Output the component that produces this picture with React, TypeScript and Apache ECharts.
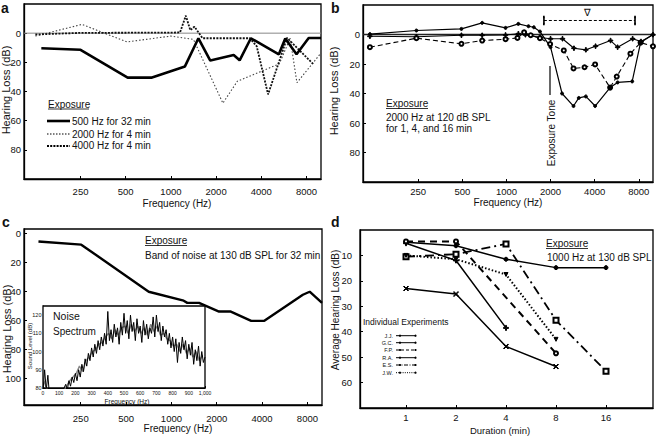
import React, { useEffect, useRef } from "react";
import * as echarts from "echarts";

const FONT = '"Liberation Sans", Arial, Helvetica, sans-serif';
const INK = "#111";

// ---------- shared frequency axis ----------
const FREQ_TICKS = [250, 500, 1000, 2000, 4000, 8000];
const FREQ_MIN = 105;
const FREQ_MAX = 10000;

// ---------- panel a ----------
const A_500_FREQ = [137, 250, 515, 740, 1240, 1525, 1830, 2620, 2870, 3410, 5240, 5780, 6870, 8280, 10000];
const A_500_DB = [10.3, 11.4, 30.5, 30.5, 22.8, 3.5, 18.8, 15, 18.6, 3.5, 14.5, 3.7, 14.5, 3.3, 3.3];
const A_2000_FREQ = [125, 255, 511, 1000, 1414, 2219, 2770, 5280, 6230, 6910, 10000];
const A_2000_DB = [2, -6, 6, 2, 4.3, 48, 33, 21, 3.4, 34, 13.6];
const A_4000_FREQ = [125, 250, 500, 1000, 1150, 1257, 1347, 1434, 1625, 3360, 3730, 4440, 5940, 8940];
const A_4000_DB = [0.9, -0.2, -0.3, -0.4, -0.5, -12, -2, -4.5, 3.5, 3.5, 9, 42, 3.2, 21.5];

// ---------- panel b ----------
const B_1MIN_FREQ = [117, 243, 493, 683, 986, 1206, 1347, 1693, 2000, 2412, 2888, 3482, 4056, 5134, 5736, 7262, 8282, 10000];
const B_1MIN_DB = [1.2, 1.5, 0.5, 0.5, 0.3, -0.5, 0.2, 2, 2.9, 2.9, 9.3, 10.4, 7.9, 4.1, 8.6, 2.9, 4.7, 0.2];
const B_4MIN_FREQ = [117, 243, 493, 683, 986, 1189, 1320, 1464, 1693, 1986, 2462, 2868, 3410, 4028, 5098, 5657, 7013, 8225, 10000];
const B_4MIN_DB = [8.6, 2.5, 6.3, 4.1, 3.2, 2.3, -1.5, 0.5, 2.5, 6.5, 10.8, 23, 22.2, 20.3, 36, 28.5, 13, 5.5, 8];
const B_16MIN_FREQ = [117, 243, 493, 683, 986, 1206, 1414, 1537, 1693, 2000, 2395, 2868, 3116, 3482, 4028, 5098, 5736, 7212, 8225, 10000];
const B_16MIN_DB = [-0.3, -2.7, -3.8, -7.9, -4.5, -7.2, -5.6, -4.9, -2, 8.6, 40, 48.5, 43, 42, 48.5, 36, 32.5, 31.8, 5.5, 0];
const B_RANGE_FREQ = [1800, 7540];
const B_RANGE_DB = [-9.5, -9.5];

// ---------- panel c ----------
const C_FREQ = [131, 252, 707, 1206, 1275, 1526, 2071, 2480, 3387, 4141, 7464, 8280, 10000];
const C_DB = [5.6, 7.8, 40.3, 46.5, 48, 48, 54, 54, 60.4, 60.4, 42.4, 40.3, 48];

// ---------- inset: noise spectrum ----------
const NOISE_STEP_HZ = 10; // black trace: 0, 10, 20, ... 1000 Hz
const NOISE_BLACK = [
  78, 90, 79, 87, 76, 74, 75, 73, 74, 75,
  76, 74, 78, 80, 82, 79, 84, 81, 86, 83,
  88, 84, 90, 86, 93, 89, 96, 92, 99, 95,
  102, 97, 104, 99, 106, 101, 108, 103, 110, 104,
  122, 106, 112, 105, 115, 108, 113, 104, 116, 109,
  121, 110, 117, 107, 120, 111, 116, 106, 118, 110,
  114, 105, 117, 109, 115, 107, 113, 110, 119, 108,
  120, 111, 116, 106, 114, 108, 112, 104, 110, 102,
  108, 100, 107, 94, 105, 99, 108, 101, 106, 96,
  104, 98, 105, 93, 101, 95, 103, 92, 100, 94,
  97,
];
const NOISE_GRAY_START = 5;
const NOISE_GRAY_STEP = 20; // gray trace: 5, 25, 45, ... Hz
const NOISE_GRAY = [
  84, 79, 75, 74, 73, 76, 78, 81, 84, 86,
  88, 92, 89, 95, 97, 100, 101, 104, 105, 108,
  110, 107, 112, 109, 113, 114, 110, 115, 111, 114,
  110, 113, 109, 115, 111, 114, 109, 110, 107, 106,
  103, 104, 100, 104, 99, 102, 97, 100, 95, 98,
];
const INSET_X_TICKS = [0, 100, 200, 300, 400, 500, 600, 700, 800, 900, 1000];
const INSET_Y_TICKS = [80, 90, 100, 110, 120];

// ---------- panel d ----------
const D_DURATIONS = [1, 2, 4, 8, 16];
const D_JJ = [4.8, 6.2, 11.5, 14.8, 14.8];
const D_GC = [5.2, 12, 38.5, null, null];
const D_FP = [4.5, 4.5, null, 48.5, null];
const D_RA = [23, 25.2, 45.8, 53.7, null];
const D_ES = [10.5, 9.5, 5.5, 35.5, 55.5];
const D_JW = [10, 11.5, 17.5, 43, null];
const D_NAMES = ["J.J.", "G.C.", "F.P.", "R.A.", "E.S.", "J.W."];

// ---------- helpers ----------
const L = (f: number) => Math.log2(f / 250);
const fpts = (f: number[], v: number[]) => f.map((x, i) => [L(x), v[i]]);
const dpts = (v: (number | null)[]) =>
  D_DURATIONS.map((d, i) => [Math.log2(d), v[i]]).filter((p) => p[1] !== null);

const PLUS = "path://M4,0H6V4H10V6H6V10H4V6H0V4H4Z";
const CROSS = "path://M1,0L5,4L9,0L10,1L6,5L10,9L9,10L5,6L1,10L0,9L4,5L0,1Z";

function freqAxis(gridIndex: number, margin: number) {
  const cv = FREQ_TICKS.map(L);
  return {
    type: "value",
    gridIndex,
    min: L(FREQ_MIN),
    max: L(FREQ_MAX),
    axisLine: { show: true, onZero: false, lineStyle: { color: "#000", width: 1.3 } },
    axisTick: { show: true, inside: true, length: 3, customValues: cv, lineStyle: { color: "#000", width: 1 } },
    axisLabel: {
      show: true,
      customValues: cv,
      formatter: (v: number) => String(Math.round(250 * Math.pow(2, v))),
      fontSize: 9.5,
      fontFamily: FONT,
      color: INK,
      margin,
    },
    splitLine: { show: false },
  };
}

function valAxis(gridIndex: number, min: number, max: number, ticks: number[], margin: number, inverse: boolean, fs = 9.5) {
  return {
    type: "value",
    gridIndex,
    min,
    max,
    inverse,
    axisLine: { show: true, onZero: false, lineStyle: { color: "#000", width: 1.3 } },
    axisTick: { show: true, inside: true, length: 3, customValues: ticks, lineStyle: { color: "#000", width: 1 } },
    axisLabel: { show: true, customValues: ticks, fontSize: fs, fontFamily: FONT, color: INK, margin },
    splitLine: { show: false },
  };
}

function ser(idx: number, data: any[], lineStyle: any, extra: any = {}) {
  return {
    type: "line",
    xAxisIndex: idx,
    yAxisIndex: idx,
    data,
    symbol: "none",
    silent: true,
    lineStyle: { color: "#000", width: 1.2, ...lineStyle },
    itemStyle: { color: "#000", borderColor: "#000", borderWidth: 1 },
    z: 3,
    ...extra,
  };
}

function T(x: number, y: number, text: string, o: any = {}) {
  const align = o.align ?? "left";
  return {
    type: "text",
    x,
    y,
    rotation: o.rotation ?? 0,
    silent: true,
    z: 100,
    style: {
      text,
      fontSize: o.size ?? 10,
      fontFamily: FONT,
      fontWeight: o.weight ?? "normal",
      fill: o.fill ?? INK,
      align,
      textAlign: align,
      verticalAlign: "middle",
      textVerticalAlign: "middle",
    },
  };
}

function Ln(x1: number, y1: number, x2: number, y2: number, w = 1, dash?: number[]) {
  return {
    type: "line",
    silent: true,
    z: 100,
    shape: { x1, y1, x2, y2 },
    style: { stroke: "#000", lineWidth: w, lineDash: dash },
  };
}

function buildOption() {
  const grids = [
    { left: 24, top: 4, width: 297, height: 175 },
    { left: 363, top: 5, width: 290, height: 177 },
    { left: 24, top: 229, width: 298, height: 176 },
    { left: 360, top: 230, width: 293, height: 178 },
    { left: 43, top: 306, width: 162, height: 82, backgroundColor: "#fff", z: 5 },
  ].map((g) => ({ show: true, borderColor: "#000", borderWidth: 1.3, outerBoundsMode: "none", ...g }));

  const dCv = D_DURATIONS.map((d) => Math.log2(d));

  const xAxis = [
    freqAxis(0, 7),
    freqAxis(1, 4),
    freqAxis(2, 8),
    {
      type: "value",
      gridIndex: 3,
      min: -0.92,
      max: 4.94,
      axisLine: { show: true, onZero: false, lineStyle: { color: "#000", width: 1.3 } },
      axisTick: { show: true, inside: true, length: 3, customValues: dCv, lineStyle: { color: "#000" } },
      axisLabel: {
        show: true,
        customValues: dCv,
        formatter: (v: number) => String(Math.round(Math.pow(2, v))),
        fontSize: 9.5,
        fontFamily: FONT,
        color: INK,
        margin: 4,
      },
      splitLine: { show: false },
    },
    {
      type: "value",
      gridIndex: 4,
      min: 0,
      max: 1000,
      axisLine: { show: true, onZero: false, lineStyle: { color: "#000", width: 1 } },
      axisTick: { show: true, inside: true, length: 2, customValues: INSET_X_TICKS, lineStyle: { color: "#000" } },
      axisLabel: { show: true, customValues: INSET_X_TICKS, fontSize: 5, fontFamily: FONT, color: INK, margin: 2 },
      splitLine: { show: false },
    },
  ];

  const yAxis = [
    valAxis(0, -20, 100, [0, 20, 40, 60, 80], 3, true),
    valAxis(1, -20, 100, [0, 20, 40, 60, 80], 3, true),
    valAxis(2, -3, 118.5, [0, 20, 40, 60, 80, 100], 3, true),
    valAxis(3, 0, 70, [10, 20, 30, 40, 50, 60], 8, true),
    {
      ...valAxis(4, 80, 125, INSET_Y_TICKS, 1.5, false, 5.5),
      axisLine: { show: true, onZero: false, lineStyle: { color: "#000", width: 1 } },
    },
  ];

  const series: any[] = [
    // a
    ser(0, [[L(FREQ_MIN), 0], [L(FREQ_MAX), 0]], { color: "#888", width: 1 }),
    ser(0, fpts(A_2000_FREQ, A_2000_DB), { color: "#444", width: 1.1, type: [1.5, 2] }),
    ser(0, fpts(A_4000_FREQ, A_4000_DB), { color: "#111", width: 1.8, type: [2, 1.3] }),
    ser(0, fpts(A_500_FREQ, A_500_DB), { width: 2.6 }),
    // b
    ser(1, [[L(FREQ_MIN), 0], [L(FREQ_MAX), 0]], { color: "#222", width: 1.5 }),
    ser(1, fpts(B_1MIN_FREQ, B_1MIN_DB), { width: 1.1 }, { symbol: PLUS, symbolSize: 4.5 }),
    ser(1, fpts(B_4MIN_FREQ, B_4MIN_DB), { width: 1.1, type: [5, 3] }, { symbol: "emptyCircle", symbolSize: 4 }),
    ser(1, fpts(B_16MIN_FREQ, B_16MIN_DB), { width: 1.2 }, { symbol: "circle", symbolSize: 3 }),
    ser(1, fpts(B_RANGE_FREQ, B_RANGE_DB), { width: 1, type: [3, 2] }, { symbol: "rect", symbolSize: [1.3, 7] }),
    // c
    ser(2, fpts(C_FREQ, C_DB), { width: 2.4 }),
    // d
    ser(3, dpts(D_JJ), { width: 1.5 }, { symbol: "circle", symbolSize: 4 }),
    ser(3, dpts(D_GC), { width: 1.5 }, { symbol: PLUS, symbolSize: 5 }),
    ser(3, dpts(D_FP), { width: 2, type: [7, 5] }, { symbol: "emptyCircle", symbolSize: 4 }),
    ser(3, dpts(D_RA), { width: 1.5 }, { symbol: CROSS, symbolSize: 5 }),
    ser(3, dpts(D_ES), { width: 1.8, type: [9, 4, 2, 4] }, { symbol: "emptyRect", symbolSize: 5 }),
    ser(3, dpts(D_JW), { width: 2, type: [1.5, 2] }, { symbol: "triangle", symbolRotate: 180, symbolSize: 4 }),
    // inset
    ser(4, NOISE_GRAY.map((v, i) => [NOISE_GRAY_START + i * NOISE_GRAY_STEP, v]), { color: "#888", width: 1.4 }, { z: 6 }),
    ser(4, NOISE_BLACK.map((v, i) => [i * NOISE_STEP_HZ, v]), { color: "#000", width: 1 }, { z: 7 }),
  ];

  const dLegendY = [335.7, 342.7, 350, 357.7, 365, 372.7];
  const dLegendDash: (number[] | undefined)[] = [undefined, undefined, [3, 2], undefined, [4, 1.5, 1, 1.5], [1, 1.2]];

  const graphic: any[] = [
    // panel letters
    T(1, 8, "a", { size: 14, weight: "bold" }),
    T(331, 8, "b", { size: 14, weight: "bold" }),
    T(2, 222, "c", { size: 14, weight: "bold" }),
    T(331, 222, "d", { size: 14, weight: "bold" }),
    // axis titles
    T(6, 90, "Hearing Loss (dB)", { size: 11, align: "center", rotation: Math.PI / 2 }),
    T(177, 203, "Frequency (Hz)", { size: 10, align: "center" }),
    T(334, 91, "Hearing Loss (dB)", { size: 11, align: "center", rotation: Math.PI / 2 }),
    T(508, 202, "Frequency (Hz)", { size: 10, align: "center" }),
    T(7, 329, "Hearing Loss (dB)", { size: 11, align: "center", rotation: Math.PI / 2 }),
    T(178, 428, "Frequency (Hz)", { size: 10, align: "center" }),
    T(335, 310, "Average Hearing Loss (dB)", { size: 10, align: "center", rotation: Math.PI / 2 }),
    T(500, 430, "Duration (min)", { size: 9.5, align: "center" }),
    // panel a legend
    T(48, 104, "Exposure"),
    Ln(48, 109, 89, 109, 0.8),
    Ln(47, 121, 70, 121, 2.6),
    T(72, 121, "500 Hz for 32 min"),
    Ln(47, 134, 70, 134, 1.1, [1.5, 1.5]),
    T(72, 134.3, "2000 Hz for 4 min"),
    Ln(47, 146, 70, 146, 1.8, [2, 1.2]),
    T(72, 145.7, "4000 Hz for 4 min"),
    // panel b legend + annotations
    T(386, 103.3, "Exposure"),
    Ln(386, 108.5, 428, 108.5, 0.8),
    T(386, 117.5, "2000 Hz at 120 dB SPL"),
    T(386, 128.5, "for 1, 4, and 16 min"),
    Ln(550, 66, 550, 95, 1.2),
    T(551, 133, "Exposure Tone", { size: 10, align: "center", rotation: Math.PI / 2 }),
    T(587.5, 12.5, "∇", { size: 10, align: "center" }),
    // panel c legend
    T(145, 240, "Exposure"),
    Ln(145, 245.5, 187, 245.5, 0.8),
    T(145, 255.7, "Band of noise at 130 dB SPL for 32 min"),
    // inset labels
    T(53, 316, "Noise", { size: 10.5 }),
    T(53, 331, "Spectrum", { size: 10 }),
    T(127, 401.5, "Frequency (Hz)", { size: 6.5, align: "center" }),
    T(30, 346, "Sound Level (dB)", { size: 6, align: "center", rotation: Math.PI / 2 }),
    // panel d legend
    T(546, 243.3, "Exposure"),
    Ln(546, 248.5, 588, 248.5, 0.8),
    T(547, 257.3, "1000 Hz at 130 dB SPL"),
    T(363, 321.7, "Individual Experiments", { size: 8.5 }),
  ];
  D_NAMES.forEach((n, i) => {
    const y = dLegendY[i];
    graphic.push(T(393, y, n, { size: 5.5, align: "right" }));
    graphic.push(Ln(396, y, 416, y, 1, dLegendDash[i]));
    graphic.push({ type: "circle", silent: true, z: 100, shape: { cx: 400, cy: y, r: 1.1 }, style: { fill: "#000" } });
    graphic.push({ type: "circle", silent: true, z: 100, shape: { cx: 415.5, cy: y, r: 1.1 }, style: { fill: "#000" } });
  });

  return {
    animation: false,
    backgroundColor: "#fff",
    textStyle: { fontFamily: FONT },
    grid: grids,
    xAxis,
    yAxis,
    series,
    graphic: { elements: graphic },
  };
}

export default function App() {
  const ref = useRef<HTMLDivElement>(null);
  useEffect(() => {
    document.body.style.margin = "0";
    const chart = echarts.init(ref.current!, null, { renderer: "svg" });
    chart.setOption(buildOption() as any);
    return () => chart.dispose();
  }, []);
  return (
    <div
      ref={ref}
      style={{ width: 657, height: 436, position: "absolute", left: 0, top: 0, background: "#fff" }}
    />
  );
}
